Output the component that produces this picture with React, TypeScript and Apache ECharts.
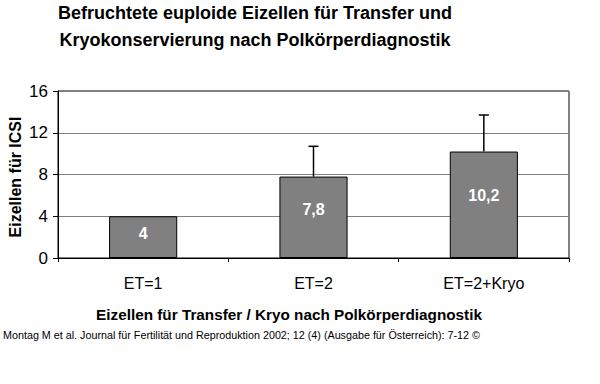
import React, { useEffect, useRef } from "react";
import * as echarts from "echarts";

const categories = ["ET=1", "ET=2", "ET=2+Kryo"];
const values = [4, 7.8, 10.2];
const errorTops = [null, 10.7, 13.7];
const valueLabels = ["4", "7,8", "10,2"];
const yTicks = [0, 4, 8, 12, 16];

const titleLines = [
  "Befruchtete euploide Eizellen für Transfer und",
  "Kryokonservierung nach Polkörperdiagnostik",
];
const yAxisName = "Eizellen für ICSI";
const xAxisName = "Eizellen für Transfer / Kryo nach Polkörperdiagnostik";
const footer =
  "Montag M et al. Journal für Fertilität und Reproduktion 2002; 12 (4) (Ausgabe für Österreich): 7-12 ©";

const FONT = "'Liberation Sans', Arial, Helvetica, sans-serif";

export default function App() {
  const ref = useRef<HTMLDivElement>(null);
  useEffect(() => {
    if (!ref.current) return;
    const chart = echarts.init(ref.current, undefined, { renderer: "svg" });
    const errData: number[][] = [];
    errorTops.forEach((t, i) => {
      if (t != null) errData.push([i, values[i], t]);
    });
    chart.setOption({
      animation: false,
      backgroundColor: "#ffffff",
      textStyle: { fontFamily: FONT },
      grid: {
        left: 58,
        right: 31,
        top: 91,
        bottom: 126,
        show: true,
        borderColor: "#000000",
        borderWidth: 1,
        backgroundColor: "transparent",
      },
      graphic: [
        {
          type: "text",
          x: 255,
          y: 13,
          style: {
            text: titleLines[0],
            font: `bold 18px ${FONT}`,
            fill: "#000",
            align: "center",
            verticalAlign: "middle",
          },
        },
        {
          type: "text",
          x: 255,
          y: 40,
          style: {
            text: titleLines[1],
            font: `bold 18px ${FONT}`,
            fill: "#000",
            align: "center",
            verticalAlign: "middle",
          },
        },
        {
          type: "text",
          x: 15,
          y: 177,
          rotation: Math.PI / 2,
          style: {
            text: yAxisName,
            font: `bold 16px ${FONT}`,
            fill: "#000",
            align: "center",
            verticalAlign: "middle",
          },
        },
        {
          type: "text",
          x: 289,
          y: 314,
          style: {
            text: xAxisName,
            font: `bold 15.3px ${FONT}`,
            fill: "#000",
            align: "center",
            verticalAlign: "middle",
          },
        },
        {
          type: "text",
          x: 3,
          y: 335,
          style: {
            text: footer,
            font: `10.75px ${FONT}`,
            fill: "#000",
            align: "left",
            verticalAlign: "middle",
          },
        },
      ],
      xAxis: {
        type: "category",
        data: categories,
        axisLine: { lineStyle: { color: "#000", width: 1 } },
        axisTick: { show: true, length: 4, lineStyle: { color: "#000" } },
        axisLabel: { color: "#000", fontSize: 16, margin: 17, fontFamily: FONT },
        splitLine: { show: false },
      },
      yAxis: {
        type: "value",
        min: yTicks[0],
        max: yTicks[yTicks.length - 1],
        interval: 4,
        axisLine: { show: true, lineStyle: { color: "#000", width: 1 } },
        axisTick: { show: true, length: 5, lineStyle: { color: "#000" } },
        axisLabel: { color: "#000", fontSize: 17, margin: 10, fontFamily: FONT },
        splitLine: { show: true, lineStyle: { color: "#808080", width: 1 } },
      },
      series: [
        {
          type: "bar",
          data: values,
          barWidth: "40%",
          itemStyle: { color: "#808080", borderColor: "#000", borderWidth: 1 },
          label: {
            show: true,
            position: ["50%", "41%"],
            align: "center",
            verticalAlign: "middle",
            color: "#fff",
            fontWeight: "bold",
            fontSize: 16,
            fontFamily: FONT,
            formatter: (p: any) => valueLabels[p.dataIndex],
          },
          z: 2,
        },
        {
          type: "custom",
          data: errData,
          encode: { x: 0, y: [1, 2] },
          z: 3,
          renderItem: (params: any, api: any) => {
            const idx = api.value(0);
            const base = api.coord([idx, api.value(1)]);
            const top = api.coord([idx, api.value(2)]);
            const half = 5;
            const style = { stroke: "#000", lineWidth: 1.5 };
            return {
              type: "group",
              children: [
                { type: "line", shape: { x1: base[0], y1: base[1], x2: top[0], y2: top[1] }, style },
                {
                  type: "line",
                  shape: { x1: top[0] - half, y1: top[1], x2: top[0] + half, y2: top[1] },
                  style,
                },
              ],
            };
          },
        },
      ],
    });
    return () => chart.dispose();
  }, []);
  return (
    <div
      ref={ref}
      style={{ position: "absolute", left: 0, top: 0, width: 600, height: 384 }}
    />
  );
}
